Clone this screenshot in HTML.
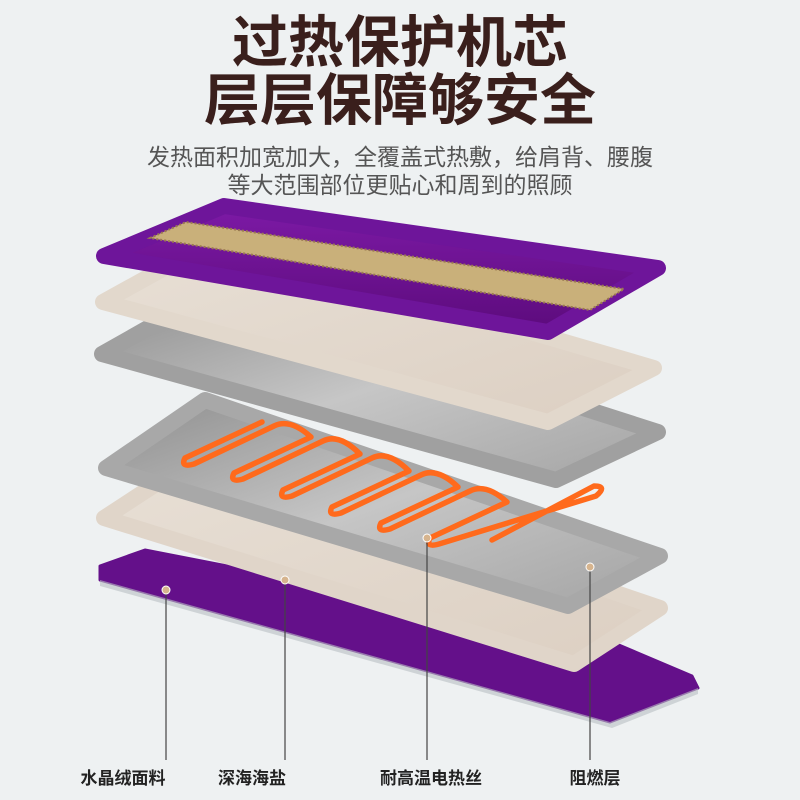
<!DOCTYPE html>
<html><head><meta charset="utf-8"><style>
html,body{margin:0;padding:0}
body{width:800px;height:800px;overflow:hidden;background:#eef1f2;font-family:"Liberation Sans","Noto Sans CJK SC",sans-serif;position:relative}
.t{position:absolute;left:0;width:800px;text-align:center;color:#3a1f1c;font-weight:bold;white-space:nowrap;font-size:56px}
.s{position:absolute;left:0;width:800px;text-align:center;color:#555;font-size:23px;white-space:nowrap}
.l{position:absolute;top:764px;font-size:17px;font-weight:bold;color:#222;white-space:nowrap;transform:translateX(-50%)}
</style></head><body>
<div class="t" style="top:10px;line-height:66px">过热保护机芯</div>
<div class="t" style="top:66px;line-height:70px">层层保障够安全</div>
<div class="s" style="top:143px;line-height:28px">发热面积加宽加大，全覆盖式热敷，给肩背、腰腹</div>
<div class="s" style="top:171px;line-height:28px">等大范围部位更贴心和周到的照顾</div>
<svg width="800" height="800" style="position:absolute;left:0;top:0">
<defs>
<linearGradient id="gr" x1="0" y1="0" x2="1" y2="1"><stop offset="0" stop-color="#8e8e8e"/><stop offset=".5" stop-color="#c6c6c6"/><stop offset="1" stop-color="#a4a4a4"/></linearGradient>
<linearGradient id="bg" x1="0" y1="0" x2="1" y2="1"><stop offset="0" stop-color="#e8e0d6"/><stop offset="1" stop-color="#dccfc2"/></linearGradient>
<linearGradient id="pu" x1="0" y1="0" x2="0" y2="1"><stop offset="0" stop-color="#7d1aa6"/><stop offset="1" stop-color="#5c0b7c"/></linearGradient>
</defs>
<polygon points="100,566 145,550 607,640 692,676 698,688 610,722 100,580" fill="#64108a" stroke="#64108a" stroke-width="3" stroke-linejoin="round"/>
<polygon points="100,580 610,722 698,688 698,694 612,728 100,586" fill="#b9bfc3" opacity=".6"/>
<g stroke-linejoin="round" stroke-width="16">
<polygon points="104,518 205,452 660,608 574,664" fill="url(#bg)" stroke="#e0d5c9"/>
<polygon points="106,468 205,400 660,556 568,606" fill="url(#gr)" stroke="#a8a8a8"/>
<polygon points="102,354 215,290 658,432 556,480" fill="url(#gr)" stroke="#a0a0a0"/>
</g>
<path fill="none" stroke="#ff6a1c" stroke-width="5.5" stroke-linejoin="round" stroke-linecap="round"
d="M262,422 L185,458 Q180,468 194,464 L274,426 Q290,418 311,437 L234,473 Q229,483 243,479 L323,441 Q339,433 360,454 L283,490 Q278,500 292,496 L372,458 Q388,450 409,471 L332,507 Q327,517 341,513 L421,475 Q437,467 458,487 L381,523 Q376,533 390,529 L470,491 Q486,483 507,502 L430,538 Q425,548 439,544 L596,496 Q608,486 594,486 L492,540"/>
<g stroke-linejoin="round" stroke-width="16">
<polygon points="103,302 215,240 654,368 548,422" fill="url(#bg)" stroke="#e2d8cc"/>
<polygon points="104,256 224,206 658,268 548,332" fill="url(#pu)" stroke="#6e159a"/>
</g>
<polygon points="150,238 186,222 624,289 590,310" fill="#c9b07a"/>
<polygon points="150,238 186,222 624,289 590,310" fill="none" stroke="#9a7a50" stroke-width="2" stroke-dasharray="2 2"/>
<g stroke="#444" stroke-width="1.2">
<line x1="166" y1="590" x2="166" y2="760"/><line x1="285" y1="580" x2="285" y2="760"/>
<line x1="427" y1="538" x2="427" y2="760"/><line x1="590" y1="567" x2="590" y2="760"/>
</g>
<g fill="#d6b48e" stroke="#fff" stroke-width="1">
<circle cx="166" cy="590" r="4"/><circle cx="285" cy="580" r="4"/><circle cx="427" cy="538" r="4"/><circle cx="590" cy="567" r="4"/>
</g>
</svg>
<div class="l" style="left:123px">水晶绒面料</div>
<div class="l" style="left:252px">深海海盐</div>
<div class="l" style="left:431px">耐高温电热丝</div>
<div class="l" style="left:595px">阻燃层</div>
</body></html>
